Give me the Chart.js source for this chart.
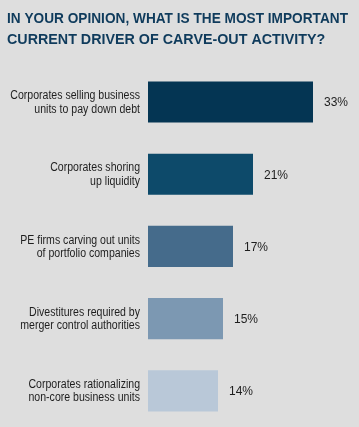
<!DOCTYPE html>
<html>
<head>
<meta charset="utf-8">
<script src="https://cdn.jsdelivr.net/npm/chart.js@4"></script>
<style>
  html, body { margin: 0; padding: 0; background: #dedede; }
  #wrap { width: 359px; height: 427px; position: relative; }
</style>
</head>
<body>
<div id="wrap"><canvas id="chart" width="359" height="427"></canvas></div>
<script>
const titleLines = [
  'IN YOUR OPINION, WHAT IS THE MOST IMPORTANT',
  'CURRENT DRIVER OF CARVE-OUT ACTIVITY?'
];
const categories = [
  ['Corporates selling business', 'units to pay down debt'],
  ['Corporates shoring', 'up liquidity'],
  ['PE firms carving out units', 'of portfolio companies'],
  ['Divestitures required by', 'merger control authorities'],
  ['Corporates rationalizing', 'non-core business units']
];
const values = [33, 21, 17, 15, 14];
const barColors = ['#043553', '#0d4a6a', '#456b8b', '#7c98b2', '#b9c8d8'];

const textColor = '#1e1e1e';

// value labels past the bar ends, plus condensed category labels on the y axis
const labelsPlugin = {
  id: 'labelsPlugin',
  afterDatasetsDraw(chart) {
    const ctx = chart.ctx;
    const meta = chart.getDatasetMeta(0);
    ctx.save();
    ctx.font = '12px "Liberation Sans", Arial, sans-serif';
    ctx.fillStyle = textColor;
    ctx.textAlign = 'left';
    ctx.textBaseline = 'middle';
    meta.data.forEach((bar, i) => {
      ctx.fillText(values[i] + '%', bar.x + 11, bar.y + 1);
    });
    ctx.restore();

    // category labels, squeezed horizontally to get the narrow look
    const yScale = chart.scales.y;
    const lineH = 13.5;
    ctx.save();
    ctx.font = '12px "Liberation Sans", Arial, sans-serif';
    ctx.fillStyle = textColor;
    ctx.textAlign = 'right';
    ctx.textBaseline = 'middle';
    categories.forEach((lines, i) => {
      const y = yScale.getPixelForTick(i);
      const x = yScale.right - 8;
      lines.forEach((line, j) => {
        const ly = y + (j - (lines.length - 1) / 2) * lineH + 0.5;
        ctx.save();
        ctx.translate(x, ly);
        ctx.scale(0.88, 1);
        ctx.fillText(line, 0, 0);
        ctx.restore();
      });
    });
    ctx.restore();
  }
};

new Chart(document.getElementById('chart'), {
  type: 'bar',
  data: {
    labels: categories,
    datasets: [{
      data: values,
      backgroundColor: barColors,
      borderWidth: 0,
      barPercentage: 0.57,
      categoryPercentage: 1.0
    }]
  },
  options: {
    indexAxis: 'y',
    responsive: false,
    animation: false,
    layout: { padding: { left: 7, right: 11, top: 0, bottom: 0 } },
    plugins: {
      legend: { display: false },
      tooltip: { enabled: false },
      title: {
        display: true,
        text: titleLines,
        align: 'start',
        color: '#0f3b5c',
        font: { family: '"Liberation Sans", Arial, sans-serif', size: 14.3, weight: 'bold', lineHeight: 1.5 },
        padding: { top: 8, bottom: 15 }
      }
    },
    scales: {
      x: {
        display: false,
        min: 0,
        max: 40
      },
      y: {
        afterFit(scale) {
          scale.width = 141;
          scale.paddingTop = 0;
          scale.paddingBottom = 0;
        },
        grid: { display: false },
        border: { display: false },
        ticks: { display: false }
      }
    }
  },
  plugins: [labelsPlugin]
});
</script>
</body>
</html>
